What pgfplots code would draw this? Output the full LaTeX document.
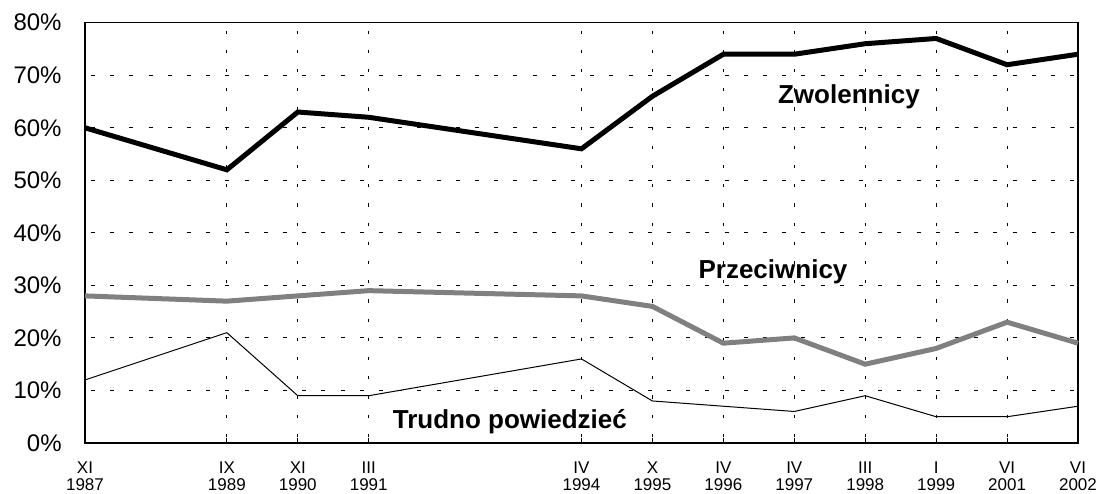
\documentclass[border=0pt]{standalone}
\usepackage{fontspec}
\setmainfont{Liberation Sans}
\usepackage{pgfplots}
\pgfplotsset{compat=1.18}
\definecolor{grayline}{RGB}{128,128,128}
\begin{document}
\begin{tikzpicture}
\begin{axis}[
  at={(0,0)}, anchor=south west,
  scale only axis, width=496.5pt, height=210.15pt,
  xmin=0, xmax=14, ymin=0, ymax=80,
  xtick={0,2,3,4,7,8,9,10,11,12,13,14},
  xticklabels={XI\\1987, IX\\1989, XI\\1990, III\\1991, IV\\1994, X\\1995, IV\\1996, IV\\1997, III\\1998, I\\1999, VI\\2001, VI\\2002},
  xticklabel style={align=center, font=\fontsize{8.5}{8.5}\selectfont, anchor=north, inner sep=0pt, yshift=-9pt},
  ytick={0,10,20,30,40,50,60,70,80},
  yticklabels={0\%,10\%,20\%,30\%,40\%,50\%,60\%,70\%,80\%},
  yticklabel style={font=\fontsize{12}{14}\selectfont, anchor=east, inner sep=0pt, xshift=-11.5pt},
  grid=major,
  major x grid style={black, line width=0.45pt, dash pattern=on 1.6pt off 8pt, dash phase=-3pt},
  major y grid style={black, line width=0.45pt, dash pattern=on 2pt off 7.6pt, dash phase=-3pt},
  axis line style={line width=0.6pt},
  tick align=inside, xtick pos=bottom, ytick style={draw=none}, major tick length=2.5pt,
  xtick style={black, line width=0.45pt},
  clip=false,
]
\addplot[grayline, line width=2.5pt] coordinates {(0,28) (2,27) (3,28) (4,29) (7,28) (8,26) (9,19) (10,20) (11,15) (12,18) (13,23) (14,19)};
\addplot[black, line width=0.5pt] coordinates {(0,12) (2,21) (3,9) (4,9) (7,16) (8,8) (9,7) (10,6) (11,9) (12,5) (13,5) (14,7)};
\addplot[black, line width=2.5pt] coordinates {(0,60) (2,52) (3,63) (4,62) (7,56) (8,66) (9,74) (10,74) (11,76) (12,77) (13,72) (14,74)};
\node[anchor=base, font=\fontsize{13}{15}\selectfont\bfseries] at (axis cs:10.77,64.6) {Zwolennicy};
\node[anchor=base, font=\fontsize{13}{15}\selectfont\bfseries] at (axis cs:9.70,31.3) {Przeciwnicy};
\node[anchor=base, font=\fontsize{13}{15}\selectfont\bfseries] at (axis cs:5.99,2.8) {Trudno powiedzieć};
\end{axis}
\pgfresetboundingbox
\path[use as bounding box] (-42.5pt,-25pt) rectangle (506.5pt,221.5pt);
\end{tikzpicture}
\end{document}
